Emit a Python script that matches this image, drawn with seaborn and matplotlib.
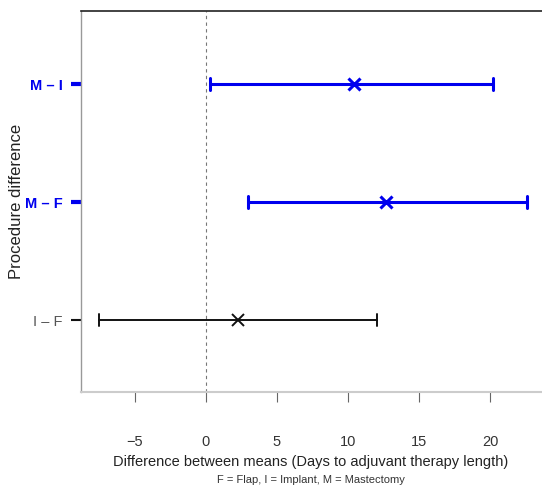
import numpy as np
import pandas as pd
import seaborn as sns
import matplotlib.pyplot as plt
from matplotlib.colors import to_rgb

# Tukey-style intervals
procedures = ["M – I", "M – F", "I – F"]
lower = [0.28, 2.96, -7.54]
estimate = [10.42, 12.68, 2.25]
upper = [20.2, 22.6, 12.04]
significant = [True, True, False]
x_ticks = [-5, 0, 5, 10, 15, 20]

sns.set_style("white")
plt.rcParams["font.family"] = ["Liberation Sans", "DejaVu Sans"]

# long form: median of (lower, estimate, upper) is the estimate, full range is the interval
rows = []
for p, lo, est, hi in zip(procedures, lower, estimate, upper):
    for v in (lo, est, hi):
        rows.append({"procedure": p, "diff": v})
df = pd.DataFrame(rows)

BLUE = "#0000ee"
BLACK = "#111111"
colors = {p: (BLUE if s else BLACK) for p, s in zip(procedures, significant)}

fig = plt.figure(figsize=(5.42, 4.87), dpi=100)
ax = fig.add_axes([81 / 542, 95 / 487, 461 / 542, 381 / 487])

ax.axvline(0, color="#777777", linestyle=(0, (3, 3)), linewidth=0.8, zorder=0)

sns.pointplot(data=df, x="diff", y="procedure", hue="procedure", order=procedures,
              hue_order=procedures, palette=colors, estimator="median",
              errorbar=("pi", 100), capsize=0.1, markers="x", linestyle="none",
              markersize=9, markeredgewidth=2.2, err_kws={"linewidth": 2.2},
              legend=False, ax=ax)

# thinner lines for the non-significant comparison
for line in ax.lines:
    if np.allclose(to_rgb(line.get_color()), to_rgb(BLACK)):
        line.set_linewidth(1.4)
        line.set_markeredgewidth(1.4)

ax.set_xlim(-8.8, 23.66)
ax.set_ylim(2.61, -0.62)
ax.set_xticks(x_ticks)
ax.set_xticklabels(["−5" if t == -5 else str(t) for t in x_ticks])

ax.tick_params(axis="x", length=7, width=0.8, color="#666666", pad=24,
               labelsize=10.5, labelcolor="#333333", bottom=True)
ax.tick_params(axis="y", length=7, width=1, pad=6, labelsize=10.5, left=True)

for tick, lab, s in zip(ax.yaxis.get_major_ticks(), ax.get_yticklabels(), significant):
    if s:
        lab.set_color(BLUE)
        lab.set_fontweight("bold")
        tick.tick1line.set_markeredgecolor(BLUE)
        tick.tick1line.set_markeredgewidth(3)
    else:
        lab.set_color("#555555")
        tick.tick1line.set_markeredgecolor(BLACK)
        tick.tick1line.set_markeredgewidth(1.5)

ax.spines["right"].set_visible(False)
ax.spines["top"].set_color("#222222")
ax.spines["top"].set_linewidth(1.2)
ax.spines["left"].set_color("#999999")
ax.spines["left"].set_linewidth(1)
ax.spines["bottom"].set_color("#cccccc")
ax.spines["bottom"].set_linewidth(1.5)

ax.set_ylabel("Procedure difference", fontsize=12, color="#222222")
ax.yaxis.set_label_coords(-0.124, 0.5)
ax.set_xlabel("")
fig.text(311 / 542, 1 - 462 / 487, "Difference between means (Days to adjuvant therapy length)",
         ha="center", va="center", fontsize=10.5, color="#222222")
fig.text(311 / 542, 1 - 480 / 487, "F = Flap, I = Implant, M = Mastectomy",
         ha="center", va="center", fontsize=8, color="#333333")

fig.savefig("out.png", dpi=100)
